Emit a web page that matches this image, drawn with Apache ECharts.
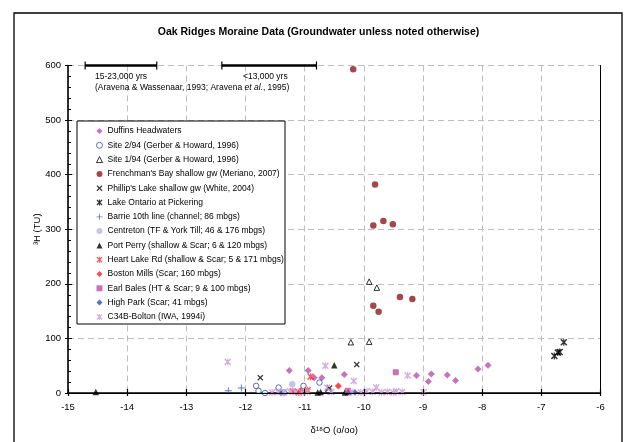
<!DOCTYPE html>
<html><head><meta charset="utf-8">
<script src="https://cdn.jsdelivr.net/npm/echarts@6/dist/echarts.min.js"></script>
<style>html,body{margin:0;padding:0;background:#fff}#c{width:637px;height:442px}</style>
</head><body><div id="c"></div>
<script>
// ---- data (δ18O, 3H TU) ----
const duffins = [[-11.26,41],[-10.94,41],[-10.84,28],[-10.71,28],[-10.33,34],[-9.11,32],[-8.91,21],[-8.86,35],[-8.59,33],[-8.45,23],[-8.07,44],[-7.90,51]];
const site294 = [[-11.82,13],[-11.78,4],[-11.67,0],[-11.44,10],[-11.35,1],[-11.02,13],[-10.75,19],[-10.6,3]];
const site194 = [[-10.22,93],[-9.91,94],[-9.91,204],[-9.78,193],[-10.6,6]];
const frenchman = [[-10.18,593],[-9.81,382],[-9.84,307],[-9.67,315],[-9.51,309],[-9.39,176],[-9.18,172],[-9.84,160],[-9.75,149]];
const phillips = [[-11.75,28],[-10.12,52],[-10.58,9]];
const lakeOntario = [[-6.62,93],[-6.69,75],[-6.72,74],[-6.78,68]];
const barrie = [[-12.29,4],[-12.07,9]];
const centreton = [[-11.21,16]];
const portPerry = [[-14.53,2],[-10.5,51],[-10.78,1],[-10.73,2],[-10.32,1],[-10.26,2]];
const heartLake = [[-10.90,30],[-11.2,3],[-11.1,1],[-10.95,5]];
const bostonMills = [[-10.43,13],[-11.07,4]];
const earlBales = [[-9.46,38],[-10.27,4]];
const highPark = [[-11.4,0],[-10.15,1]];
const c34b = [[-12.3,57],[-10.65,50],[-10.17,22],[-9.79,10],[-9.26,32],[-9.35,2],[-8.99,2],[-11.55,1],[-11.45,2],[-11.35,1],[-11.25,3],[-11.15,2],[-11.05,1],[-10.95,2],[-10.62,10],[-10.55,2],[-10.2,2],[-10.05,1],[-9.95,3],[-9.85,2],[-9.7,1],[-9.6,2],[-9.5,1],[-9.45,3]];
const ageBars = [[-14.71,-13.5],[-12.4,-10.8]];
const xTicks = {min:-15, max:-6, step:1};
const yTicks = {min:0, max:600, step:100};

const seriesNames = ['Duffins Headwaters','Site 2/94 (Gerber & Howard, 1996)','Site 1/94 (Gerber & Howard, 1996)',"Frenchman's Bay shallow gw (Meriano, 2007)","Phillip's Lake shallow gw (White, 2004)",'Lake Ontario at Pickering','Barrie 10th line (channel; 86 mbgs)','Centreton (TF & York Till; 46 & 176 mbgs)','Port Perry (shallow & Scar; 6 & 120 mbgs)','Heart Lake Rd (shallow & Scar; 5 & 171 mbgs)','Boston Mills (Scar; 160 mbgs)','Earl Bales (HT & Scar; 9 & 100 mbgs)','High Park (Scar; 41 mbgs)','C34B-Bolton (IWA, 1994i)'];

const X_PATH = 'path://M1.5,0L5,3.5L8.5,0L10,1.5L6.5,5L10,8.5L8.5,10L5,6.5L1.5,10L0,8.5L3.5,5L0,1.5Z';
const AST_PATH = 'path://M1.5,0L5,3.5L8.5,0L10,1.5L6.5,5L10,8.5L8.5,10L5,6.5L1.5,10L0,8.5L3.5,5L0,1.5Z M4.2,0H5.8V10H4.2Z';
const PLUS_PATH = 'path://M4.3,0H5.7V4.3H10V5.7H5.7V10H4.3V5.7H0V4.3H4.3Z';

const styles = [
  {data:duffins, symbol:'diamond', size:7, color:'#B94FAE'},
  {data:site294, symbol:'circle', size:5.5, color:'#2E4BA8', hollow:true},
  {data:site194, symbol:'triangle', size:5.5, color:'#000000', hollow:true},
  {data:frenchman, symbol:'circle', size:6.5, color:'#8B1A1E'},
  {data:phillips, symbol:X_PATH, size:6, color:'#000000'},
  {data:lakeOntario, symbol:AST_PATH, size:7, color:'#000000'},
  {data:barrie, symbol:PLUS_PATH, size:7, color:'#3A56C0'},
  {data:centreton, symbol:'circle', size:6.5, color:'#B9B6E0'},
  {data:portPerry, symbol:'triangle', size:6.5, color:'#000000'},
  {data:heartLake, symbol:AST_PATH, size:7, color:'#FF2A2A'},
  {data:bostonMills, symbol:'diamond', size:7, color:'#FF1A1A'},
  {data:earlBales, symbol:'rect', size:6, color:'#C04BA5'},
  {data:highPark, symbol:'diamond', size:6.5, color:'#3050A5'},
  {data:c34b, symbol:AST_PATH, size:7, color:'#C99BD5'}
];

const itemStyleFor = s => s.hollow ? {color:'#ffffff', borderColor:s.color, borderWidth:1} : {color:s.color};
const series = styles.map((s,i)=>({
  name: seriesNames[i], type:'scatter', data:s.data, symbol:s.symbol, symbolSize:s.size,
  itemStyle: itemStyleFor(s), xAxisIndex:0, yAxisIndex:0, z:3
}));

series.push({
  type:'custom', data:ageBars, xAxisIndex:0, yAxisIndex:0, z:5, silent:true,
  encode:{x:[0,1]},
  renderItem:function(params, api){
    const a = api.coord([api.value(0), yTicks.max]);
    const b = api.coord([api.value(1), yTicks.max]);
    return {type:'group', children:[
      {type:'line', shape:{x1:a[0],y1:a[1],x2:b[0],y2:b[1]}, style:{stroke:'#000',lineWidth:2.6}},
      {type:'line', shape:{x1:a[0],y1:a[1]-4,x2:a[0],y2:a[1]+4}, style:{stroke:'#000',lineWidth:1.2}},
      {type:'line', shape:{x1:b[0],y1:b[1]-4,x2:b[0],y2:b[1]+4}, style:{stroke:'#000',lineWidth:1.2}}
    ]};
  }
});

const F = 'Liberation Sans, Arial, sans-serif';
const legendData = seriesNames.map((n,i)=>({name:n, itemStyle:itemStyleFor(styles[i])}));
const chart = echarts.init(document.getElementById('c'), null, {renderer:'canvas'});
chart.setOption({
  animation:false,
  backgroundColor:'#fff',
  textStyle:{fontFamily:F},
  title:{text:'Oak Ridges Moraine Data (Groundwater unless noted otherwise)', left:'center', top:22,
    textStyle:{fontSize:10.5, fontWeight:'bold', color:'#000', fontFamily:F}},
  grid:{left:68, right:36.5, top:65.5, bottom:49, show:false},
  xAxis:[{type:'value', min:xTicks.min, max:xTicks.max, interval:xTicks.step,
    name:'δ¹⁸O (o/oo)', nameLocation:'middle', nameGap:32, nameTextStyle:{fontSize:9.5, color:'#000', fontFamily:F},
    axisLine:{lineStyle:{color:'#000', width:1.6}}, axisTick:{show:true, length:3, lineStyle:{color:'#000',width:1.2}},
    axisLabel:{fontSize:9.5, color:'#000', margin:9, fontFamily:F},
    splitLine:{show:true, lineStyle:{color:'#BDBDBD', type:[6,4], width:1}}},
   {type:'value', min:xTicks.min, max:xTicks.max, interval:xTicks.step, position:'bottom', z:4,
    axisLine:{show:false}, axisTick:{show:true, inside:true, length:4, lineStyle:{color:'#000',width:1.2}},
    axisLabel:{show:false}, splitLine:{show:false}},
   {type:'value', min:xTicks.min, max:xTicks.max, position:'top', z:4,
    axisLine:{show:true, lineStyle:{color:'#000', width:1}}, axisTick:{show:false},
    axisLabel:{show:false}, splitLine:{show:false}}],
  yAxis:[{type:'value', min:yTicks.min, max:yTicks.max, interval:yTicks.step,
    name:'³H (TU)', nameLocation:'middle', nameGap:26, nameMoveOverlap:false, nameTextStyle:{fontSize:9.5, color:'#000', fontFamily:F},
    axisLine:{lineStyle:{color:'#000', width:1.6}}, axisTick:{show:true, inside:true, length:4, lineStyle:{color:'#000',width:1}},
    minorTick:{show:true, splitNumber:5, length:3, lineStyle:{color:'#000',width:1}},
    axisLabel:{fontSize:9.5, color:'#000', margin:7, fontFamily:F},
    splitLine:{show:true, lineStyle:{color:'#BDBDBD', type:[6,4], width:1}}},
   {type:'value', min:yTicks.min, max:yTicks.max, interval:yTicks.step, position:'left',
    axisLine:{show:false}, axisTick:{show:true, inside:false, length:3, lineStyle:{color:'#000',width:1}},
    axisLabel:{show:false}, splitLine:{show:false}},
   {type:'value', min:yTicks.min, max:yTicks.max, position:'right', z:4,
    axisLine:{show:true, lineStyle:{color:'#000', width:1}}, axisTick:{show:false},
    axisLabel:{show:false}, splitLine:{show:false}}],
  legend:{orient:'vertical', left:96, top:126, padding:0, itemWidth:6, itemHeight:6, itemGap:4.3,
    data:legendData, z:10, selectedMode:false,
    textStyle:{fontSize:8.5, lineHeight:10, color:'#000', fontFamily:F}},
  graphic:[
    {type:'rect', shape:{x:77, y:121, width:208, height:203}, style:{fill:'#fff', stroke:'#000', lineWidth:1}, z:8},
    {type:'rect', shape:{x:14, y:13, width:608, height:440}, style:{fill:'none', stroke:'#000', lineWidth:1.3}, z:1},
    {type:'text', left:95, top:72, z:9, style:{text:'15-23,000 yrs', fontSize:8.5, fill:'#000', fontFamily:F}},
    {type:'text', left:243, top:72, z:9, style:{text:'<13,000 yrs', fontSize:8.5, fill:'#000', fontFamily:F}},
    {type:'text', left:95, top:83.5, z:9, style:{text:'{n|(Aravena & Wassenaar, 1993; Aravena }{i|et al}{n|., 1995)}', fontSize:8.5, fill:'#000', fontFamily:F,
      rich:{n:{fontSize:8.5, fontFamily:F, fill:'#000'}, i:{fontSize:8.5, fontFamily:F, fontStyle:'italic', fill:'#000'}}}}
  ],
  series:series
});
</script></body></html>
